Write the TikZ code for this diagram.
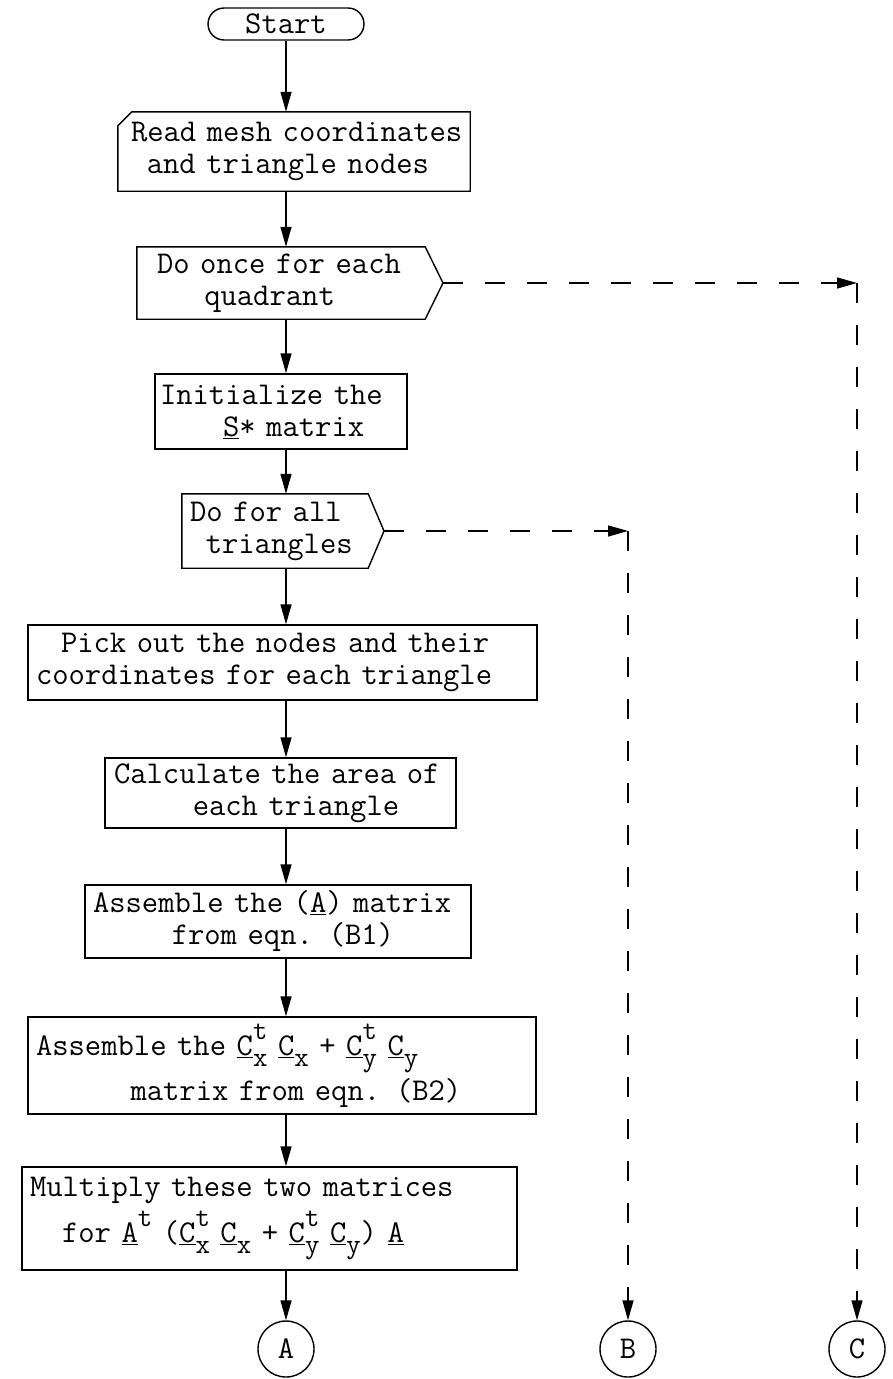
\documentclass[tikz,border=0pt]{standalone}
\usepackage{fontspec}
\usetikzlibrary{arrows.meta,shapes.misc,calc}
\newcommand{\ssz}{\fontsize{28}{28}\selectfont}
\newcommand{\Cm}[2]{\underline{C}\makebox[0pt][l]{\raisebox{0.52em}{\ssz #1}}\raisebox{-0.34em}{\ssz #2}}
\newcommand{\Cs}[1]{\underline{C}\raisebox{-0.34em}{\ssz #1}}
\newcommand{\ttsetup}{\fontsize{31.7}{32}\selectfont\ttfamily\spaceskip=\fontcharwd\font`M\relax\xspaceskip=\fontcharwd\font`M\relax}
\tikzset{
  ln/.style={line width=1.4pt},
  txt/.style={font=\ttsetup, align=left, inner xsep=0pt, inner ysep=0pt},
  boxs/.style={txt, draw, ln},
  plain/.style={txt, draw=none},
  arr/.style={ln, -{Triangle[length=20pt,width=11pt]}},
  dsh/.style={ln, dash pattern=on 20pt off 22pt, -{Triangle[length=20pt,width=11pt]}},
  conn/.style={txt, circle, draw, ln, minimum size=56pt, align=center}
}
\begin{document}
\begin{tikzpicture}[x=1pt,y=-1pt]
\useasboundingbox (0,0) rectangle (892,1379);
% start
\node[txt, draw, ln, rounded rectangle, minimum width=156pt, minimum height=32pt, align=center] (start) at (286,24) {Start};
% read (card)
\node[plain, minimum height=79pt, text width=352pt] (read) at (294,151.5)
  {\hspace*{13pt}Read mesh coordinates\\\hspace*{28.75pt}and triangle nodes};
\draw[ln] ([yshift=-14pt]read.north west) -- ([xshift=14pt]read.north west) -- (read.north east) -- (read.south east) -- (read.south west) -- cycle;
% do once
\node[plain, minimum height=72pt, text width=288pt] (once) at (281,283)
  {\hspace*{20pt}Do once for each\\\hspace*{67.25pt}quadrant};
\coordinate (oncetip) at (443,283);
\draw[ln] (once.north west) -- (once.north east) -- (oncetip) -- (once.south east) -- (once.south west) -- cycle;
% init
\node[boxs, minimum height=75pt, text width=252pt] (init) at (281,411.5)
  {\hspace*{5pt}Initialize the\\\hspace*{68pt}\underline{S}* matrix};
% do for all
\node[plain, minimum height=74pt, text width=186pt] (doall) at (275,531)
  {\hspace*{8pt}Do for all\\\hspace*{23.75pt}triangles};
\coordinate (doalltip) at (384,531);
\draw[ln] (doall.north west) -- (doall.north east) -- (doalltip) -- (doall.south east) -- (doall.south west) -- cycle;
% pick
\node[boxs, minimum height=75pt, text width=509pt] (pick) at (282.5,662.5)
  {\hspace*{33pt}Pick out the nodes and their\\\hspace*{8pt}coordinates for each triangle};
% calc
\node[boxs, minimum height=70pt, text width=351pt] (calc) at (280.5,793)
  {\hspace*{9pt}Calculate the area of\\\hspace*{87.75pt}each triangle};
% assemble A
\node[boxs, minimum height=73pt, text width=386pt] (asmA) at (278,921.5)
  {\hspace*{8pt}Assemble the (\underline{A}) matrix\\\hspace*{86.75pt}from eqn. (B1)};
% assemble C
\node[boxs, minimum height=97pt, text width=508pt] (asmC) at (282,1065.5)
  {\hspace*{8pt}Assemble the \Cm{t}{x} \Cs{x} + \Cm{t}{y} \Cs{y}\\[4pt]\hspace*{102.5pt}matrix from eqn. (B2)};
% multiply
\node[boxs, minimum height=103pt, text width=495pt] (mult) at (269.5,1218.5)
  {\hspace*{8pt}Multiply these two matrices\\[6pt]\hspace*{40pt}for \underline{A}\raisebox{0.52em}{\ssz t} (\Cm{t}{x} \Cs{x} + \Cm{t}{y} \Cs{y}) \underline{A}};
% connectors
\node[conn] (A) at (286,1349) {A};
\node[conn] (B) at (628,1349) {B};
\node[conn] (C) at (857,1349) {C};
\coordinate (cB) at (628,531);
\coordinate (cC) at (857,283);
% arrows
\draw[arr] (start.south) -- (start.south |- read.north);
\draw[arr] (read.south -| start) -- (once.north -| start);
\draw[arr] (once.south -| start) -- (init.north -| start);
\draw[arr] (init.south -| start) -- (doall.north -| start);
\draw[arr] (doall.south -| start) -- (pick.north -| start);
\draw[arr] (pick.south -| start) -- (calc.north -| start);
\draw[arr] (calc.south -| start) -- (asmA.north -| start);
\draw[arr] (asmA.south -| start) -- (asmC.north -| start);
\draw[arr] (asmC.south -| start) -- (mult.north -| start);
\draw[arr] (mult.south -| start) -- (A.north);
\draw[dsh] (oncetip) -- (cC);
\draw[dsh] (cC) -- (C.north);
\draw[dsh] (doalltip) -- (cB);
\draw[dsh] (cB) -- (B.north);
\end{tikzpicture}
\end{document}
